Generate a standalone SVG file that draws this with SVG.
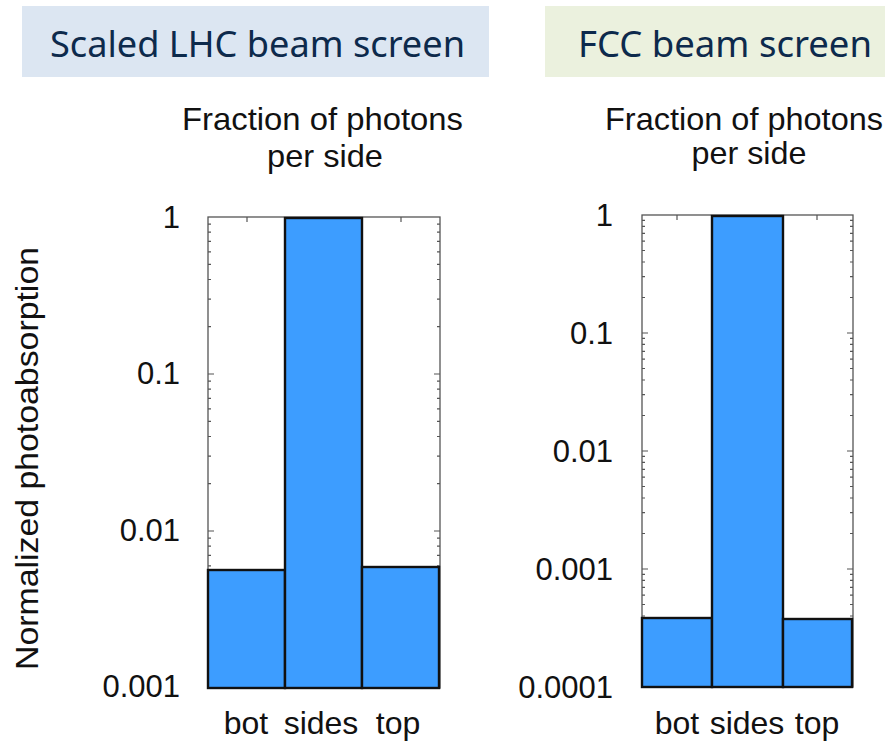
<svg xmlns="http://www.w3.org/2000/svg" width="890" height="743" viewBox="0 0 890 743">
<style>
.hdr{font-family:"Noto Sans","Liberation Sans",sans-serif;font-size:37px;fill:#0d2a4c}
.t{font-family:"Liberation Sans",Arial,sans-serif;font-size:32px;fill:#111}
.tk{font-family:"Liberation Sans",Arial,sans-serif;font-size:31px;fill:#111;text-anchor:end}
.lbl{font-family:"Liberation Sans",Arial,sans-serif;font-size:32px;fill:#111;text-anchor:middle}
.frame{fill:none;stroke:#555;stroke-width:1.3}
.tick{fill:none;stroke:#555;stroke-width:1.2}
.bar{fill:#3d9dff;stroke:#111;stroke-width:2.4}
</style>
<rect width="890" height="743" fill="#fff"/>

<g id="header-left">
<rect x="22" y="6" width="467" height="71" fill="#dce6f2"/>
<text class="hdr" x="50" y="57" textLength="415" lengthAdjust="spacingAndGlyphs">Scaled LHC beam screen</text>
</g>
<g id="header-right">
<rect x="545" y="6" width="340" height="71" fill="#ebf1de"/>
<text class="hdr" x="578" y="57" textLength="294" lengthAdjust="spacingAndGlyphs">FCC beam screen</text>
</g>

<text id="ylabel" class="t" transform="translate(38,458.5) rotate(-90)" text-anchor="middle" textLength="423" lengthAdjust="spacingAndGlyphs">Normalized photoabsorption</text>

<g id="chart-left">
<text class="t" x="322.5" y="130" text-anchor="middle" textLength="281" lengthAdjust="spacingAndGlyphs">Fraction of photons</text>
<text class="t" x="325" y="167" text-anchor="middle" textLength="116" lengthAdjust="spacingAndGlyphs">per side</text>
<rect class="frame" x="208" y="217" width="232" height="471"/>
<path class="tick" d="M208 640.7h3M208 613.1h3M208 593.5h3M208 578.3h3M208 565.8h3M208 555.3h3M208 546.2h3M208 538.2h3M208 483.7h3M208 456.1h3M208 436.5h3M208 421.3h3M208 408.8h3M208 398.3h3M208 389.2h3M208 381.2h3M208 326.7h3M208 299.1h3M208 279.5h3M208 264.3h3M208 251.8h3M208 241.3h3M208 232.2h3M208 224.2h3M208 531h6M208 374h6
M440 640.7h-3M440 613.1h-3M440 593.5h-3M440 578.3h-3M440 565.8h-3M440 555.3h-3M440 546.2h-3M440 538.2h-3M440 483.7h-3M440 456.1h-3M440 436.5h-3M440 421.3h-3M440 408.8h-3M440 398.3h-3M440 389.2h-3M440 381.2h-3M440 326.7h-3M440 299.1h-3M440 279.5h-3M440 264.3h-3M440 251.8h-3M440 241.3h-3M440 232.2h-3M440 224.2h-3M440 531h-6M440 374h-6
M247 217v5M401 217v5"/>
<text class="tk" x="180" y="228">1</text>
<text class="tk" x="180" y="384">0.1</text>
<text class="tk" x="180" y="541">0.01</text>
<text class="tk" x="180" y="697">0.001</text>
<rect class="bar" x="208" y="570" width="77" height="118"/>
<rect class="bar" x="285" y="218" width="77" height="470"/>
<rect class="bar" x="362" y="567" width="77" height="121"/>
<text class="lbl" x="246" y="734">bot</text>
<text class="lbl" x="321" y="734">sides</text>
<text class="lbl" x="398" y="734">top</text>
</g>

<g id="chart-right">
<text class="t" x="744" y="130" text-anchor="middle" textLength="278" lengthAdjust="spacingAndGlyphs">Fraction of photons</text>
<text class="t" x="749" y="164" text-anchor="middle" textLength="115" lengthAdjust="spacingAndGlyphs">per side</text>
<rect class="frame" x="642" y="215" width="211" height="472"/>
<path class="tick" d="M642 651.5h3M642 630.7h3M642 616h3M642 604.5h3M642 595.2h3M642 587.3h3M642 580.4h3M642 574.4h3M642 533.5h3M642 512.7h3M642 498h3M642 486.5h3M642 477.2h3M642 469.3h3M642 462.4h3M642 456.4h3M642 415.5h3M642 394.7h3M642 380h3M642 368.5h3M642 359.2h3M642 351.3h3M642 344.4h3M642 338.4h3M642 297.5h3M642 276.7h3M642 262h3M642 250.5h3M642 241.2h3M642 233.3h3M642 226.4h3M642 220.4h3M642 569h6M642 451h6M642 333h6
M853 651.5h-3M853 630.7h-3M853 616h-3M853 604.5h-3M853 595.2h-3M853 587.3h-3M853 580.4h-3M853 574.4h-3M853 533.5h-3M853 512.7h-3M853 498h-3M853 486.5h-3M853 477.2h-3M853 469.3h-3M853 462.4h-3M853 456.4h-3M853 415.5h-3M853 394.7h-3M853 380h-3M853 368.5h-3M853 359.2h-3M853 351.3h-3M853 344.4h-3M853 338.4h-3M853 297.5h-3M853 276.7h-3M853 262h-3M853 250.5h-3M853 241.2h-3M853 233.3h-3M853 226.4h-3M853 220.4h-3M853 569h-6M853 451h-6M853 333h-6
M677 215v5M817 215v5"/>
<text class="tk" x="613" y="226">1</text>
<text class="tk" x="613" y="344">0.1</text>
<text class="tk" x="613" y="462">0.01</text>
<text class="tk" x="613" y="580">0.001</text>
<text class="tk" x="613" y="698">0.0001</text>
<rect class="bar" x="642" y="618" width="70" height="69"/>
<rect class="bar" x="712" y="216" width="71" height="471"/>
<rect class="bar" x="783" y="619" width="69" height="68"/>
<text class="lbl" x="677" y="734">bot</text>
<text class="lbl" x="747" y="734">sides</text>
<text class="lbl" x="817" y="734">top</text>
</g>
</svg>
